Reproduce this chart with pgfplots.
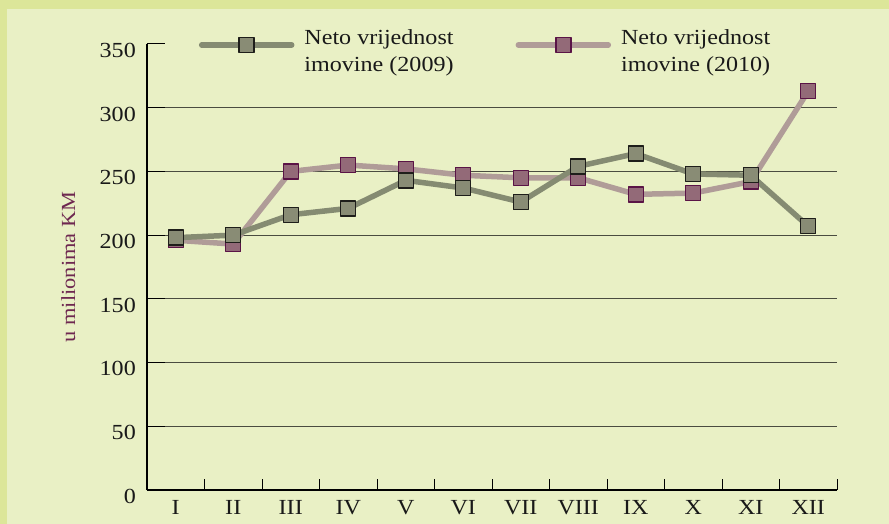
\documentclass[border=0pt]{standalone}
\usepackage{fontspec}
\setmainfont{Liberation Serif}[FakeStretch=1.12]
\usepackage{pgfplots}
\pgfplotsset{compat=1.18}

\definecolor{bgband}{HTML}{DCE699}
\definecolor{bginner}{HTML}{E9F0C5}
\definecolor{gridc}{HTML}{4A4C40}
\definecolor{lineA}{HTML}{858B72}
\definecolor{fillA}{HTML}{898C75}
\definecolor{edgeA}{HTML}{1E1E1A}
\definecolor{lineB}{HTML}{B09C98}
\definecolor{fillB}{HTML}{936A78}
\definecolor{edgeB}{HTML}{5A1446}
\definecolor{labc}{HTML}{6E2850}

\pgfplotsset{
  s2009/.style={color=lineA, line width=5.5pt, line cap=round, line join=round,
    mark=square*, mark size=7.5pt, mark options={fill=fillA, draw=edgeA, line width=1.4pt}},
  s2010/.style={color=lineB, line width=5.5pt, line cap=round, line join=round,
    mark=square*, mark size=7.5pt, mark options={fill=fillB, draw=edgeB, line width=1.4pt}},
}

\begin{document}
\begin{tikzpicture}[x=1pt,y=1pt]
\useasboundingbox (0,0) rectangle (889,524);
\fill[bgband] (0,0) rectangle (889,524);
\fill[bginner] (7,0) rectangle (889,515);
\begin{axis}[
  at={(147pt,34pt)}, anchor=south west,
  scale only axis, width=690pt, height=446pt,
  xmin=0.5, xmax=12.5, ymin=0, ymax=350,
  axis lines=left, axis line style={-, line width=1.3pt, black},
  tick align=inside,
  xtick={1,...,12},
  xticklabels={I,II,III,IV,V,VI,VII,VIII,IX,X,XI,XII},
  minor xtick={1.5,2.5,...,12.5},
  major x tick style={draw=none},
  minor x tick style={black, line width=1pt},
  minor tick length=11pt,
  ytick={0,50,...,300},
  extra y ticks={350},
  extra y tick style={grid=none},
  ytick style={black, line width=1pt},
  major tick length=18pt,
  ymajorgrids,
  major grid style={gridc, line width=0.9pt},
  /pgf/number format/assume math mode=true,
  tick label style={font=\fontsize{21.5}{25}\selectfont, black!90},
  xticklabel style={anchor=base, yshift=-25pt, inner sep=0pt},
  yticklabel style={anchor=base east, yshift=-13.4pt, xshift=-11pt, inner sep=0pt},
  ylabel={u milionima KM},
  ylabel style={at={(axis description cs:-0.114,0.5)}, anchor=center, labc,
    font=\fontsize{20}{22}\selectfont},
  legend columns=2,
  legend image code/.code={\draw[mark repeat=2,mark phase=2,#1]
    plot coordinates {(0pt,6pt)(45pt,6pt)(90pt,6pt)};},
  legend style={at={(rel axis cs:0.075,1.038)}, anchor=north west,
    draw=none, fill=none, inner sep=0pt,
    font=\fontsize{21.5}{27}\selectfont, text=black!90,
    cells={align=left, anchor=west},
    /tikz/every odd column/.append style={column sep=8pt},
    /tikz/every even column/.append style={column sep=60pt}},
]
\addplot[s2010, forget plot] coordinates {
  (1,196) (2,193) (3,250) (4,255) (5,252) (6,247)
  (7,245) (8,245) (9,232) (10,233) (11,242) (12,313)};
\addplot[s2009] coordinates {
  (1,198) (2,200) (3,216) (4,221) (5,243) (6,237)
  (7,226) (8,254) (9,264) (10,248) (11,247) (12,207)};
\addlegendentry{Neto vrijednost\\imovine (2009)}
\addlegendimage{s2010}
\addlegendentry{Neto vrijednost\\imovine (2010)}
\end{axis}
\end{tikzpicture}
\end{document}
